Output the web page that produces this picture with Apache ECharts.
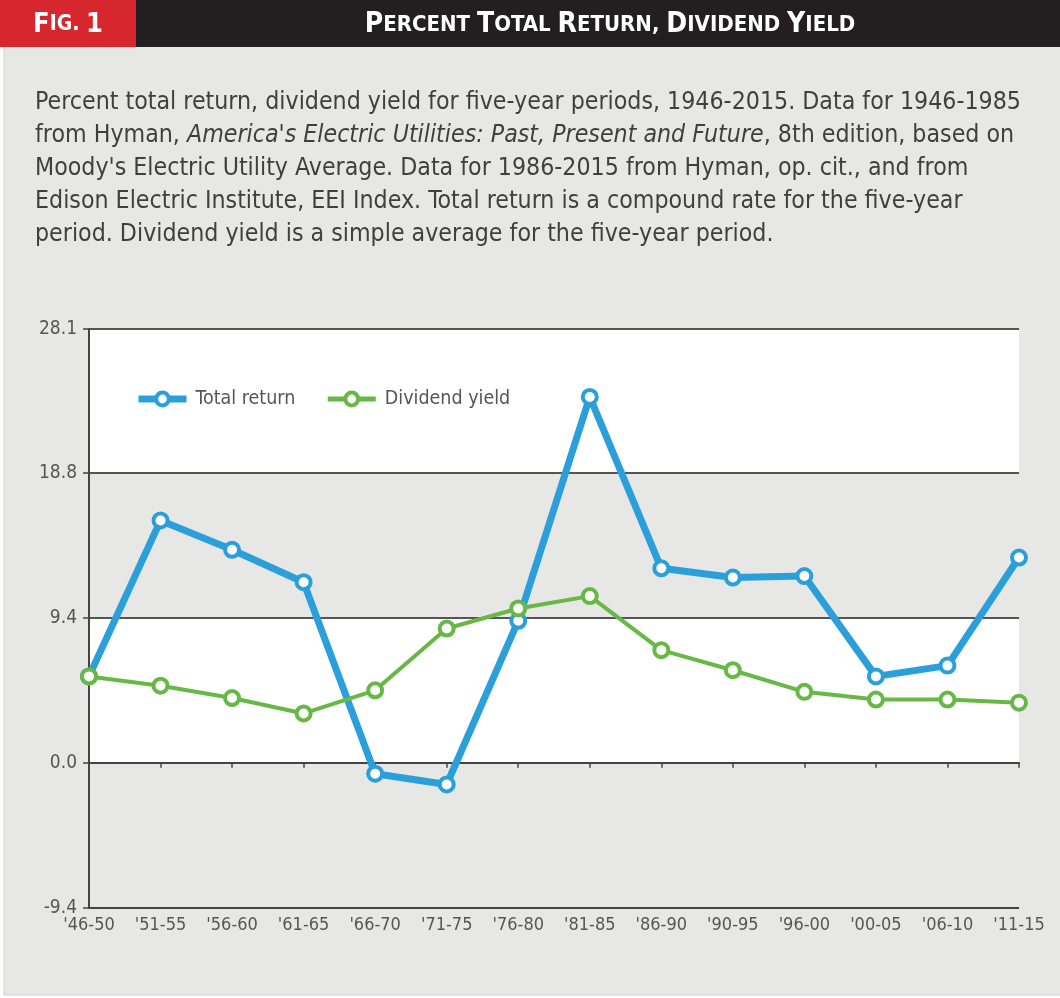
<!DOCTYPE html>
<html>
<head>
<meta charset="utf-8">
<script src="https://cdn.jsdelivr.net/npm/echarts@6/dist/echarts.min.js"></script>
<style>
html,body{margin:0;padding:0;background:#ffffff;}
#chart{width:1060px;height:998px;}
</style>
</head>
<body>
<div id="chart"></div>
<script>
const categories = ["'46-50","'51-55","'56-60","'61-65","'66-70","'71-75","'76-80","'81-85","'86-90","'90-95","'96-00","'00-05","'06-10","'11-15"];
const totalReturn = [5.6, 15.7, 13.8, 11.7, -0.7, -1.4, 9.2, 23.7, 12.6, 12.0, 12.1, 5.6, 6.3, 13.3];
const dividendYield = [5.6, 5.0, 4.2, 3.2, 4.7, 8.7, 10.0, 10.8, 7.3, 6.0, 4.6, 4.1, 4.1, 3.9];
const yMin = -9.4, yMax = 28.1, yStep = 9.4;
const seriesNames = ['Total return', 'Dividend yield'];
const descLines = [
  [{t:'Percent total return, dividend yield for five-year periods, 1946-2015. Data for 1946-1985'}],
  [{t:'from Hyman, '},{t:"America's Electric Utilities: Past, Present and Future", i:true},{t:', 8th edition, based on'}],
  [{t:"Moody's Electric Utility Average. Data for 1986-2015 from Hyman, op. cit., and from"}],
  [{t:'Edison Electric Institute, EEI Index. Total return is a compound rate for the five-year'}],
  [{t:'period. Dividend yield is a simple average for the five-year period.'}]
];

const FONT = '"Liberation Sans Narrow","DejaVu Sans Condensed","Roboto Condensed",Arial,sans-serif';
const BG = '#e7e8e6';
const BLUE = '#2b9fd9', GREEN = '#67b845';

function smallCaps(str) {
  let out = '';
  for (const word of str.split(' ')) {
    if (out) out += '{s| }';
    const first = word[0], rest = word.slice(1);
    out += '{b|' + first + '}';
    if (rest) out += '{s|' + rest.toUpperCase() + '}';
  }
  return out;
}

const graphics = [
  {type:'rect', shape:{x:4, y:46, width:1060, height:949}, style:{fill:BG, stroke:'#cfd0ce', lineWidth:1}, z:-10},
  {type:'rect', shape:{x:0, y:0, width:1060, height:47}, style:{fill:'#231f20'}, z:-5},
  {type:'rect', shape:{x:0, y:0, width:136, height:47}, style:{fill:'#d7272e'}, z:-4},
  {type:'text', x:68, y:25, style:{
    text: '{b|F}{s|IG. }{b|1}', align:'center', verticalAlign:'middle',
    rich:{
      b:{fontFamily:FONT, fontWeight:'bold', fontSize:27, fill:'#fff'},
      s:{fontFamily:FONT, fontWeight:'bold', fontSize:21, fill:'#fff'}
    }
  }},
  {type:'text', x:610, y:25, style:{
    text: smallCaps('Percent Total Return, Dividend Yield'), align:'center', verticalAlign:'middle',
    rich:{
      b:{fontFamily:FONT, fontWeight:'bold', fontSize:28, fill:'#fff'},
      s:{fontFamily:FONT, fontWeight:'bold', fontSize:22, fill:'#fff'}
    }
  }}
];

descLines.forEach((line, k) => {
  const txt = line.map(p => (p.i ? '{i|' : '{n|') + p.t + '}').join('');
  graphics.push({type:'text', x:35, y:103 + k*33, style:{
    text: txt, align:'left', verticalAlign:'middle',
    rich:{
      n:{fontFamily:FONT, fontSize:24.7, fill:'#3f3f3f'},
      i:{fontFamily:FONT, fontSize:24.7, fontStyle:'italic', fill:'#3f3f3f'}
    }
  }});
});

const chart = echarts.init(document.getElementById('chart'), null, {renderer:'canvas'});
chart.setOption({
  backgroundColor: '#ffffff',
  animation: false,
  graphic: graphics,
  legend: {
    left: 135, top: 389, padding: 0,
    itemWidth: 48, itemHeight: 16, itemGap: 30,
    data: [
      {name: seriesNames[0], lineStyle: {width: 7, color: BLUE}, itemStyle: {borderWidth: 4}},
      {name: seriesNames[1], lineStyle: {width: 5, color: GREEN}, itemStyle: {borderWidth: 4}}
    ],
    textStyle: {fontFamily: FONT, fontSize: 19.5, color: '#555', padding: [0, 0, 0, 4]}
  },
  grid: {left: 89, right: 41, top: 329, bottom: 90, containLabel: false},
  xAxis: {
    type: 'category', data: categories, boundaryGap: false,
    axisLine: {lineStyle: {color: '#444', width: 2}},
    axisTick: {alignWithLabel: true, length: 5, lineStyle: {color: '#444', width: 1.5}},
    axisLabel: {fontFamily: FONT, fontSize: 18, color: '#555', margin: 8, interval: 0},
    splitLine: {show: false}
  },
  yAxis: {
    type: 'value', min: yMin, max: yMax, interval: yStep,
    axisLine: {show: true, lineStyle: {color: '#444', width: 2}},
    axisTick: {show: true, length: 6, lineStyle: {color: '#444', width: 1.5}},
    axisLabel: {fontFamily: FONT, fontSize: 19, color: '#555', margin: 12,
      formatter: v => v.toFixed(1)},
    splitLine: {show: true, lineStyle: {color: ['#444', '#222', '#555', '#555', '#555'], width: 2}},
    splitArea: {show: true, areaStyle: {color: [BG, '#ffffff']}}
  },
  series: [
    {
      name: seriesNames[0], type: 'line', data: totalReturn,
      symbol: 'circle', symbolSize: 14, showAllSymbol: true,
      lineStyle: {color: BLUE, width: 7},
      itemStyle: {color: '#ffffff', borderColor: BLUE, borderWidth: 4},
      z: 3
    },
    {
      name: seriesNames[1], type: 'line', data: dividendYield,
      symbol: 'circle', symbolSize: 14, showAllSymbol: true,
      lineStyle: {color: GREEN, width: 4},
      itemStyle: {color: '#ffffff', borderColor: GREEN, borderWidth: 4},
      z: 4
    }
  ]
});
</script>
</body>
</html>
